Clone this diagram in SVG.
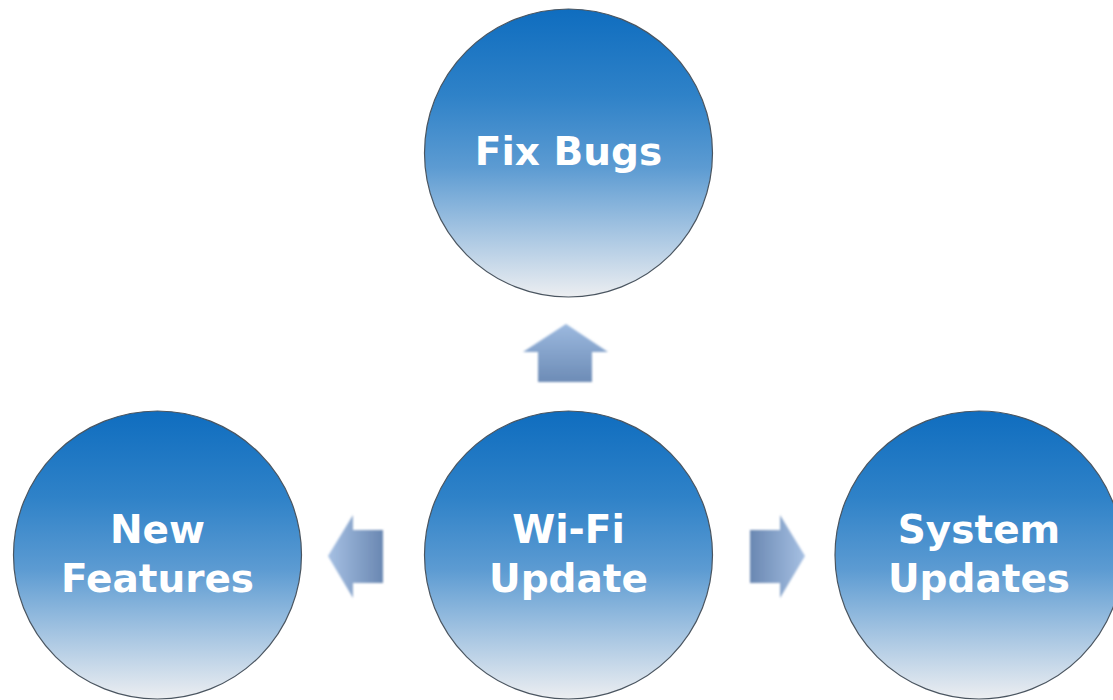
<svg xmlns="http://www.w3.org/2000/svg" width="1113" height="700" viewBox="0 0 1113 700">
  <defs>
    <linearGradient id="circGrad" x1="0" y1="0" x2="0" y2="1">
      <stop offset="0" stop-color="#0f6dbf"/>
      <stop offset="0.3" stop-color="#2f82c8"/>
      <stop offset="0.55" stop-color="#5c9bd2"/>
      <stop offset="0.75" stop-color="#9dc0e0"/>
      <stop offset="1" stop-color="#eceef1"/>
    </linearGradient>
    <linearGradient id="upGrad" x1="0" y1="0" x2="0" y2="1">
      <stop offset="0" stop-color="#9cb9df"/>
      <stop offset="1" stop-color="#6d8cb6"/>
    </linearGradient>
    <linearGradient id="leftGrad" x1="0" y1="0" x2="1" y2="0">
      <stop offset="0" stop-color="#a6c0e3"/>
      <stop offset="1" stop-color="#6a88b2"/>
    </linearGradient>
    <linearGradient id="rightGrad" x1="1" y1="0" x2="0" y2="0">
      <stop offset="0" stop-color="#a6c0e3"/>
      <stop offset="1" stop-color="#6a88b2"/>
    </linearGradient>
    <filter id="soft" x="-20%" y="-20%" width="140%" height="140%">
      <feGaussianBlur stdDeviation="1.2"/>
    </filter>
  </defs>
  <style>
    .node circle { fill: url(#circGrad); stroke: #4a5560; stroke-width: 1.2; }
    .node text { font-family: "DejaVu Sans", Verdana, sans-serif; font-weight: bold; font-size: 39px; fill: #ffffff; text-anchor: middle; }
    .arrow { filter: url(#soft); }
  </style>
  <rect width="1113" height="700" fill="#ffffff"/>

  <g id="connectors">
    <polygon class="arrow" fill="url(#upGrad)" points="566,324 608,352 592,352 592,382 538,382 538,352 523,352"/>
    <polygon class="arrow" fill="url(#leftGrad)" points="328,556 353,515 353,530 383,530 383,583 353,583 353,598"/>
    <polygon class="arrow" fill="url(#rightGrad)" points="805,556 780,515 780,530 750,530 750,583 780,583 780,598"/>
  </g>

  <g id="node-fix-bugs" class="node">
    <circle cx="568.5" cy="153" r="144"/>
    <text x="568.5" y="165">Fix Bugs</text>
  </g>

  <g id="node-new-features" class="node">
    <circle cx="157.5" cy="555" r="144"/>
    <text x="157.5" y="543">New</text>
    <text x="157.5" y="592">Features</text>
  </g>

  <g id="node-wifi-update" class="node">
    <circle cx="568.5" cy="555" r="144"/>
    <text x="568.5" y="543">Wi-Fi</text>
    <text x="568.5" y="592">Update</text>
  </g>

  <g id="node-system-updates" class="node">
    <circle cx="979" cy="555" r="144"/>
    <text x="979" y="543">System</text>
    <text x="979" y="592">Updates</text>
  </g>
</svg>
